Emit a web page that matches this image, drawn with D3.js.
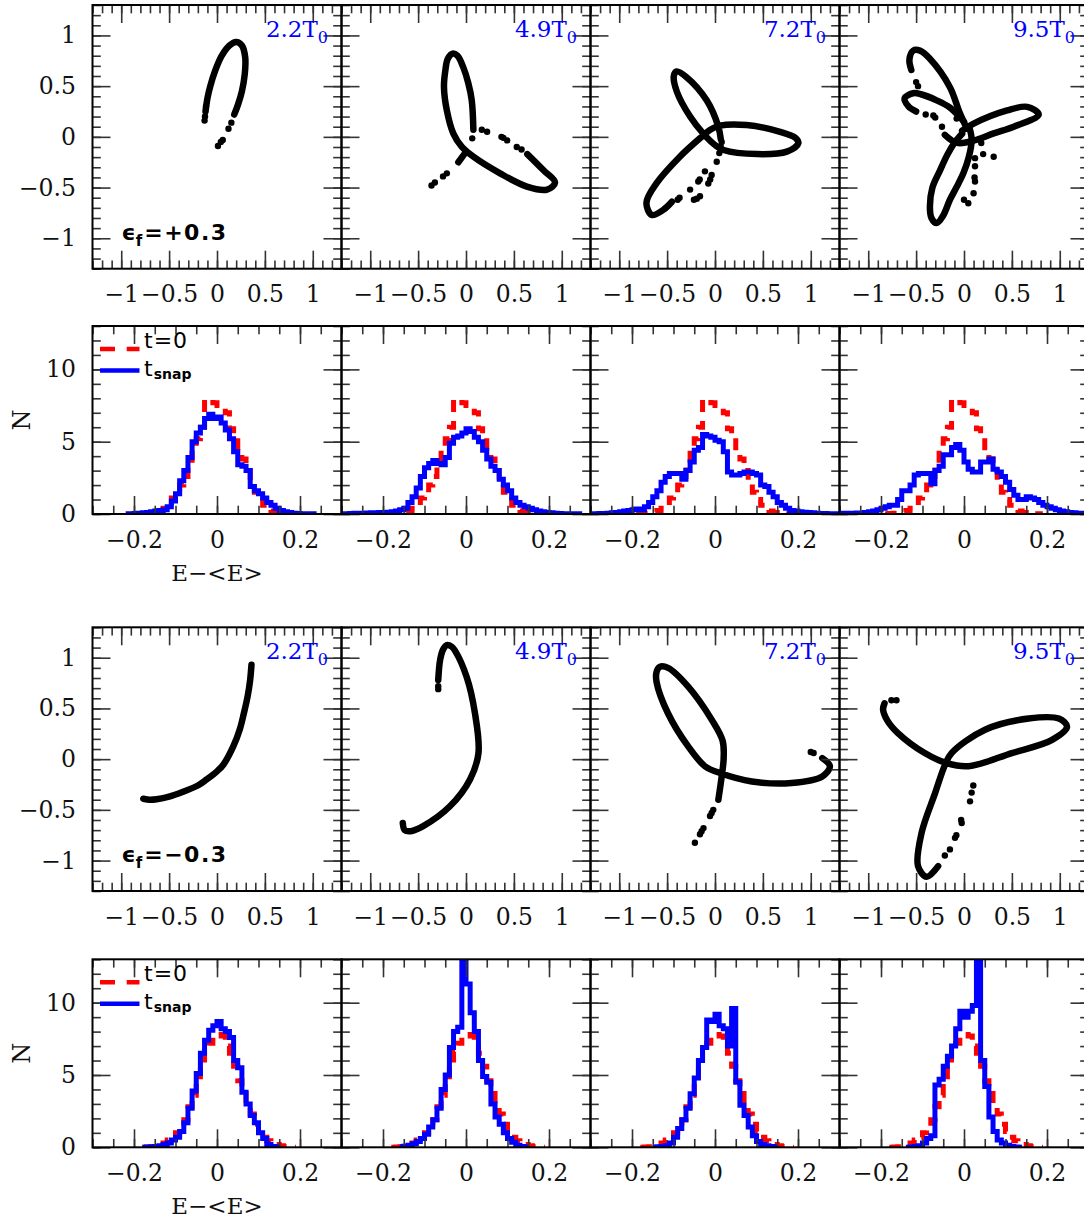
<!DOCTYPE html>
<html>
<head>
<meta charset="utf-8">
<script src="https://cdn.jsdelivr.net/npm/d3@7"></script>
<style>
  body { margin: 0; background: #fff; }
  svg text { font-family: "DejaVu Serif", serif; }
</style>
</head>
<body>
<div id="chart"></div>
<script>
// ---- datos ----
const snapTimes = ["2.2", "4.9", "7.2", "9.5"]
const epsValues = ["+0.3", "\u22120.3"]
const orbitMajor = [-1, -0.5, 0, 0.5, 1]
const orbitMinor = d3.range(-13, 14).map(d => d / 10)
const histXMajor = [-0.2, 0, 0.2]
const histXMinor = d3.range(-6, 7).map(d => d / 20)
const histYMajor = [0, 5, 10]
const histYMinor = d3.range(0, 14)
const binW = 0.01

// orbitas eps = +0.3 (lineas = chorro denso, dots = particulas sueltas)
const linesPlus22 = [
  [[-0.12,0.25],[-0.1,0.38],[-0.07,0.5],[-0.02,0.65],[0.05,0.8],[0.13,0.9],[0.2,0.935],[0.26,0.9],[0.295,0.78],[0.29,0.62],[0.26,0.45],[0.22,0.32],[0.18,0.22]]
]
const dotsPlus22 = [[-0.125,0.2],[-0.13,0.16],[-0.115,0.3],[0.15,0.14],[0.12,0.08],[0.06,-0.03],[0.04,-0.05],[0.01,-0.09]]

const linesPlus49 = [
  [[0.077,0.07],[0.06,0.36],[0.024,0.53],[-0.03,0.69],[-0.09,0.8],[-0.14,0.82],[-0.19,0.77],[-0.215,0.66],[-0.23,0.49],[-0.2,0.26],[-0.133,0.034],[-0.045,-0.097],[0.077,-0.196],[0.356,-0.36],[0.636,-0.49],[0.846,-0.52],[0.93,-0.45],[0.81,-0.33],[0.64,-0.17]],
  [[-0.01,-0.16],[-0.08,-0.25]]
]
const dotsPlus49 = [[0.58,-0.125],[0.53,-0.1],[0.43,-0.035],[0.39,-0.01],[0.37,0.0],[0.22,0.05],[0.165,0.07],[0.065,-0.015],[-0.2,-0.36],[-0.24,-0.39],[-0.325,-0.45],[-0.36,-0.48]]

const linesPlus72 = [
  [[0.06,-0.02],[0.035,0.1],[-0.087,0.36],[-0.3,0.59],[-0.4,0.645],[-0.43,0.6],[-0.4,0.45],[-0.26,0.2],[-0.12,0.03],[0.0,-0.08],[0.09,-0.13],[0.44,-0.17],[0.75,-0.146],[0.87,-0.064],[0.84,-0.01],[0.68,0.05],[0.33,0.116],[0.05,0.11],[-0.05,0.07],[-0.14,0.0],[-0.367,-0.196],[-0.61,-0.457],[-0.716,-0.65],[-0.66,-0.77],[-0.54,-0.72],[-0.45,-0.64]]
]
const dotsPlus72 = [[-0.37,-0.6],[-0.39,-0.62],[-0.26,-0.52],[-0.22,-0.62],[-0.19,-0.61],[-0.157,-0.585],[-0.07,-0.46],[-0.05,-0.42],[-0.035,-0.375],[-0.105,-0.34],[-0.175,-0.44],[-0.16,-0.42],[0.018,-0.245],[0.045,-0.16],[0.07,-0.05],[0.06,-0.1]]

const linesPlus95 = [
  [[0.03,0.08],[-0.05,0.25],[-0.147,0.49],[-0.356,0.77],[-0.46,0.85],[-0.53,0.85],[-0.57,0.76],[-0.55,0.66]],
  [[0.0,0.15],[-0.15,0.29],[-0.286,0.36],[-0.45,0.42],[-0.53,0.43],[-0.62,0.38],[-0.58,0.3],[-0.5,0.25]],
  [[-0.2,0.02],[-0.07,-0.06],[0.13,-0.03],[0.31,0.034],[0.52,0.1],[0.78,0.22],[0.66,0.296],[0.45,0.26],[0.1,0.13],[-0.02,0.06]],
  [[0.06,0.08],[0.08,-0.03],[0.05,-0.2],[-0.007,-0.36],[-0.08,-0.5],[-0.147,-0.62],[-0.22,-0.78],[-0.286,-0.85],[-0.34,-0.8],[-0.356,-0.687],[-0.33,-0.5],[-0.25,-0.33],[-0.17,-0.17],[-0.1,-0.06],[-0.02,0.03]]
]
const dotsPlus95 = [[-0.5,0.54],[-0.48,0.5],[-0.4,0.22],[-0.32,0.21],[-0.3,0.19],[-0.23,0.1],[-0.077,0.18],[0.115,-0.21],[0.115,-0.29],[0.115,-0.44],[0.11,-0.4],[0.1,-0.556],[0.045,-0.654],[0.0,-0.62],[0.2,-0.17],[0.31,-0.196],[0.18,-0.06]]

// orbitas eps = -0.3
const linesMinus22 = [
  [[-0.77,-0.39],[-0.7,-0.4],[-0.63,-0.395],[-0.5,-0.37],[-0.35,-0.32],[-0.2,-0.26],[-0.108,-0.2],[0.0,-0.12],[0.066,-0.055],[0.17,0.125],[0.24,0.3],[0.28,0.45],[0.32,0.62],[0.346,0.78],[0.36,0.93]]
]
const dotsMinus22 = []

const linesMinus49 = [
  [[-0.29,0.78],[-0.27,0.98],[-0.24,1.08],[-0.2,1.125],[-0.15,1.11],[-0.115,1.07],[0.007,0.81],[0.094,0.45],[0.13,0.06],[0.042,-0.2],[-0.168,-0.465],[-0.447,-0.66],[-0.58,-0.71],[-0.64,-0.7],[-0.66,-0.63]]
]
const dotsMinus49 = [[-0.29,0.72],[-0.29,0.69]]

const linesMinus72 = [
  [[0.035,-0.4],[0.07,-0.17],[0.09,0.0],[0.08,0.18],[-0.035,0.39],[-0.28,0.715],[-0.49,0.9],[-0.577,0.91],[-0.61,0.86],[-0.61,0.76],[-0.49,0.45],[-0.28,0.125],[-0.105,-0.07],[0.052,-0.137],[0.385,-0.22],[0.8,-0.235],[1.12,-0.17],[1.2,-0.07],[1.12,0.01]]
]
const dotsMinus72 = [[1.03,0.06],[1.0,0.07],[-0.018,-0.5],[-0.035,-0.53],[-0.052,-0.56],[-0.12,-0.68],[-0.14,-0.71],[-0.157,-0.74],[-0.21,-0.825]]

const linesMinus95 = [
  [[-0.83,0.55],[-0.845,0.49],[-0.8,0.38],[-0.69,0.257],[-0.41,0.06],[-0.18,-0.04],[0.045,-0.07],[0.5,0.06],[0.92,0.19],[1.076,0.32],[0.99,0.4],[0.674,0.4],[0.22,0.29],[-0.13,0.06],[-0.2,-0.06],[-0.3,-0.33],[-0.443,-0.727],[-0.48,-1.055],[-0.39,-1.16],[-0.27,-1.055]]
]
const dotsMinus95 = [[-0.705,0.58],[-0.758,0.58],[-0.2,-0.95],[-0.147,-0.89],[-0.094,-0.776],[-0.08,-0.75],[-0.024,-0.63],[-0.03,-0.6],[0.063,-0.416],[0.08,-0.33],[0.097,-0.26]]

// histogramas: inicio del primer bin + valores (bins de 0.01)
const redPlusStart = -0.19
const redPlus = [0.02,0.04,0.06,0.1,0.15,0.25,0.4,0.6,1.1,1.5,2.0,2.6,3.5,4.4,5.2,6.0,7.9,7.9,7.7,7.5,7.4,7.0,5.9,5.4,4.2,3.8,3.0,2.2,1.5,1.0,0.6,0.3,0.2,0.1,0.06,0.04,0.02,0.01]
const redMinusStart = -0.18
const redMinus = [0.01,0.02,0.04,0.06,0.1,0.3,0.5,0.7,1.0,1.4,1.9,2.8,3.6,4.6,5.8,6.6,7.2,7.6,7.8,7.7,7.0,6.5,5.6,4.6,3.9,3.0,2.3,1.6,1.1,0.7,0.45,0.3,0.2,0.1,0.05,0.03,0.01]

const bluePlusStart = [-0.22, -0.30, -0.30, -0.30]
const bluePlus22 = [0.02,0.02,0.03,0.05,0.08,0.1,0.15,0.2,0.25,0.3,0.5,0.9,1.4,2.3,3.0,3.9,5.0,5.6,6.0,6.6,6.9,6.6,6.7,6.3,5.8,5.2,4.3,3.4,3.3,3.0,1.9,1.6,1.4,1.1,0.8,0.6,0.4,0.25,0.15,0.1,0.05,0.03,0.02,0.02,0.02,0.01]
const bluePlus49 = [0.02,0.02,0.03,0.05,0.05,0.06,0.07,0.08,0.09,0.1,0.1,0.12,0.15,0.2,0.3,0.4,0.8,1.2,1.8,2.6,3.2,3.5,3.7,3.5,3.4,3.9,4.9,5.3,5.4,5.6,5.9,5.7,5.3,5.0,4.4,3.8,3.3,3.0,2.4,2.0,1.6,1.1,0.8,0.6,0.5,0.4,0.3,0.2,0.15,0.1,0.08,0.05,0.03,0.02,0.02,0.01,0.01,0.01]
const bluePlus72 = [0.02,0.02,0.03,0.04,0.05,0.08,0.1,0.15,0.2,0.25,0.3,0.35,0.3,0.5,0.8,1.2,1.6,2.2,2.6,2.8,2.8,2.8,2.4,3.0,3.6,4.4,4.6,5.5,5.4,5.3,5.1,5.0,4.3,2.9,2.7,2.7,2.8,2.9,2.9,2.8,2.7,2.0,1.9,1.5,1.2,0.8,0.6,0.4,0.25,0.2,0.15,0.12,0.1,0.08,0.06,0.04,0.03,0.02,0.02,0.01]
const bluePlus95 = [0.05,0.05,0.06,0.06,0.07,0.07,0.1,0.15,0.2,0.3,0.4,0.5,0.6,0.6,1.0,1.6,1.6,2.0,2.7,2.8,2.8,2.8,2.1,3.0,3.3,4.1,4.1,4.6,4.8,4.4,3.6,3.1,2.9,2.9,3.6,3.6,3.8,3.1,2.9,2.6,2.2,1.7,1.3,1.0,1.0,1.2,1.1,1.0,0.8,0.6,0.5,0.4,0.3,0.2,0.15,0.1,0.08,0.06,0.05,0.05]

const blueMinusStart = [-0.18, -0.16, -0.15, -0.14]
const blueMinus22 = [0.01,0.02,0.03,0.05,0.1,0.2,0.3,0.5,0.7,1.1,1.7,2.7,3.9,5.1,6.5,7.4,8.1,8.4,8.7,8.2,8.0,7.6,6.0,5.5,3.8,3.0,2.2,1.7,1.0,0.6,0.2,0.05,0.02]
const blueMinus49 = [0.03,0.08,0.15,0.25,0.4,0.6,0.9,1.4,1.9,2.7,4.0,5.0,6.9,8.0,8.3,16,11.3,9.3,8.0,6.0,4.9,4.5,3.0,2.1,1.6,1.0,0.6,0.35,0.15,0.05,0.02]
const blueMinus72 = [0.01,0.03,0.05,0.1,0.3,0.7,1.3,1.9,2.7,3.7,4.8,6.0,6.9,8.8,8.7,9.2,8.4,8.2,7.0,9.6,4.5,2.9,2.2,1.4,0.8,0.4,0.2,0.1,0.05,0.02]
const blueMinus95 = [0.01,0.02,0.05,0.1,0.3,0.6,0.8,4.3,4.7,5.6,6.3,7.0,8.2,9.4,9.0,9.4,9.8,15,6.0,4.2,2.1,1.1,0.5,0.3,0.15,0.05,0.02,0.01]

// ---- layout ----
const W = 1084, H = 1220
const panelLeft = 92.5, panelW = 249
const orbitTops = [5, 627.3], orbitH = 263.7
const histTops = [326, 959.3], histH = 188

const rows = [
  { eps: epsValues[0], lines: [linesPlus22, linesPlus49, linesPlus72, linesPlus95],
    dots: [dotsPlus22, dotsPlus49, dotsPlus72, dotsPlus95],
    red: redPlus, redStart: redPlusStart,
    blue: [bluePlus22, bluePlus49, bluePlus72, bluePlus95], blueStart: bluePlusStart },
  { eps: epsValues[1], lines: [linesMinus22, linesMinus49, linesMinus72, linesMinus95],
    dots: [dotsMinus22, dotsMinus49, dotsMinus72, dotsMinus95],
    red: redMinus, redStart: redMinusStart,
    blue: [blueMinus22, blueMinus49, blueMinus72, blueMinus95], blueStart: blueMinusStart }
]

const svg = d3.select("#chart").append("svg")
  .attr("width", W).attr("height", H)
  .attr("viewBox", `0 0 ${W} ${H}`)

const fmt = d3.format("~g")
const tickColor = "#333"

// ticks en los cuatro lados, hacia dentro
function frameAxes(g, x, y, xMajor, xMinor, yMajor, yMinor, showY) {
  const x0 = x.range()[0], x1 = x.range()[1]
  const yb = y.range()[0], yt = y.range()[1]
  const axes = [
    [d3.axisBottom(x).tickValues(xMajor).tickSize(-18).tickPadding(17).tickFormat(fmt), `translate(0,${yb})`],
    [d3.axisBottom(x).tickValues(xMinor).tickSize(-8.3).tickFormat(""), `translate(0,${yb})`],
    [d3.axisTop(x).tickValues(xMajor).tickSize(-18).tickFormat(""), `translate(0,${yt})`],
    [d3.axisTop(x).tickValues(xMinor).tickSize(-8.3).tickFormat(""), `translate(0,${yt})`],
    [d3.axisLeft(y).tickValues(yMajor).tickSize(-18).tickPadding(16.5).tickFormat(showY ? fmt : ""), `translate(${x0},0)`],
    [d3.axisLeft(y).tickValues(yMinor).tickSize(-8.3).tickFormat(""), `translate(${x0},0)`],
    [d3.axisRight(y).tickValues(yMajor).tickSize(-18).tickFormat(""), `translate(${x1},0)`],
    [d3.axisRight(y).tickValues(yMinor).tickSize(-8.3).tickFormat(""), `translate(${x1},0)`]
  ]
  axes.forEach(([ax, tr]) => {
    const a = g.append("g").attr("transform", tr).call(ax)
      .attr("font-family", null).attr("font-size", null)
    a.select(".domain").remove()
    a.selectAll(".tick line").attr("stroke", tickColor).attr("stroke-width", 1.6)
    a.selectAll(".tick text").attr("fill", "#111").style("font-size", "23.5px")
  })
  g.append("rect")
    .attr("x", x0).attr("y", yt).attr("width", x1 - x0).attr("height", yb - yt)
    .attr("fill", "none").attr("stroke", "#000").attr("stroke-width", 2)
}

const orbitLine = d3.line().curve(d3.curveCatmullRom.alpha(0.5))

rows.forEach((row, r) => {
  const oTop = orbitTops[r], hTop = histTops[r]
  const yO = d3.scaleLinear().domain([-1.3, 1.3]).range([oTop + orbitH, oTop])
  const yH = d3.scaleLinear().domain([0, 13]).range([hTop + histH, hTop])

  snapTimes.forEach((t, i) => {
    const x0 = panelLeft + i * panelW
    const xO = d3.scaleLinear().domain([-1.3, 1.3]).range([x0, x0 + panelW])
    const xH = d3.scaleLinear().domain([-0.3, 0.3]).range([x0, x0 + panelW])

    // ---- orbita ----
    const gO = svg.append("g")
    gO.selectAll("path.orb").data(row.lines[i]).enter().append("path")
      .attr("class", "orb")
      .attr("d", d => orbitLine(d.map(p => [xO(p[0]), yO(p[1])])))
      .attr("fill", "none").attr("stroke", "#000")
      .attr("stroke-width", 6.5).attr("stroke-linecap", "round").attr("stroke-linejoin", "round")
    gO.selectAll("circle").data(row.dots[i]).enter().append("circle")
      .attr("cx", d => xO(d[0])).attr("cy", d => yO(d[1])).attr("r", 3.2)
      .attr("fill", "#000")
    frameAxes(gO, xO, yO, orbitMajor, orbitMinor, orbitMajor, orbitMinor, i === 0)

    const tl = gO.append("text")
      .attr("x", x0 + panelW - 13.5).attr("y", oTop + 32)
      .attr("text-anchor", "end").attr("fill", "#0000ff")
      .style("font-size", "23px")
    tl.append("tspan").text(`${t}T`)
    tl.append("tspan").attr("dy", 6).style("font-size", "16px").text("0")

    if (i === 0) {
      const eps = gO.append("text")
        .attr("x", x0 + 29).attr("y", oTop + orbitH - 29)
        .style("font-family", "'DejaVu Sans', sans-serif")
        .style("font-weight", "bold").style("font-size", "22px")
        .attr("fill", "#000")
      eps.append("tspan").text("\u03f5")
      eps.append("tspan").attr("dy", 6).style("font-size", "15px").text("f")
      eps.append("tspan").attr("dy", -6).attr("dx", 2).style("letter-spacing", "1.5px").text("=" + row.eps)
    }

    // ---- histograma ----
    const gH = svg.append("g")
    const clipId = `clip-${r}-${i}`
    gH.append("clipPath").attr("id", clipId).append("rect")
      .attr("x", x0).attr("y", hTop).attr("width", panelW).attr("height", histH)
    const step = d3.line().curve(d3.curveStepAfter).x(d => xH(d[0])).y(d => yH(d[1]))
    const toPts = (start, vals) => {
      const pts = vals.map((v, k) => [start + k * binW, v])
      pts.push([start + vals.length * binW, vals[vals.length - 1]])
      return pts
    }
    gH.append("path")
      .attr("d", step(toPts(row.redStart, row.red)))
      .attr("clip-path", `url(#${clipId})`)
      .attr("fill", "none").attr("stroke", "#ff0000").attr("stroke-width", 5)
      .attr("stroke-dasharray", "12,9")
    gH.append("path")
      .attr("d", step(toPts(row.blueStart[i], row.blue[i])))
      .attr("clip-path", `url(#${clipId})`)
      .attr("fill", "none").attr("stroke", "#0000ff").attr("stroke-width", 5)
    frameAxes(gH, xH, yH, histXMajor, histXMinor, histYMajor, histYMinor, i === 0)

    if (i === 0) {
      // leyenda
      gH.append("line")
        .attr("x1", x0 + 7.5).attr("x2", x0 + 47).attr("y1", hTop + 23).attr("y2", hTop + 23)
        .attr("stroke", "#ff0000").attr("stroke-width", 4.5).attr("stroke-dasharray", "15,11.7")
      gH.append("line")
        .attr("x1", x0 + 7.5).attr("x2", x0 + 47).attr("y1", hTop + 44.5).attr("y2", hTop + 44.5)
        .attr("stroke", "#0000ff").attr("stroke-width", 4.5)
      gH.append("text")
        .attr("x", x0 + 51.5).attr("y", hTop + 22)
        .style("font-family", "'DejaVu Sans', sans-serif").style("font-size", "22px")
        .style("letter-spacing", "1px")
        .attr("fill", "#000").text("t=0")
      const ts = gH.append("text")
        .attr("x", x0 + 51.5).attr("y", hTop + 50)
        .style("font-family", "'DejaVu Sans', sans-serif").style("font-size", "22px")
        .attr("fill", "#000")
      ts.append("tspan").text("t")
      ts.append("tspan").attr("dy", 3).attr("dx", 1)
        .style("font-size", "14px").style("font-weight", "bold").text("snap")

      // titulos de ejes
      gH.append("text")
        .attr("transform", `translate(30,${hTop + histH / 2}) rotate(-90)`)
        .attr("text-anchor", "middle").style("font-size", "24px").attr("fill", "#111")
        .text("N")
      gH.append("text")
        .attr("x", x0 + panelW / 2).attr("y", hTop + histH + 67)
        .attr("text-anchor", "middle").style("font-size", "23px").attr("fill", "#111")
        .text("E\u2212<E>")
    }
  })
})
</script>
</body>
</html>
